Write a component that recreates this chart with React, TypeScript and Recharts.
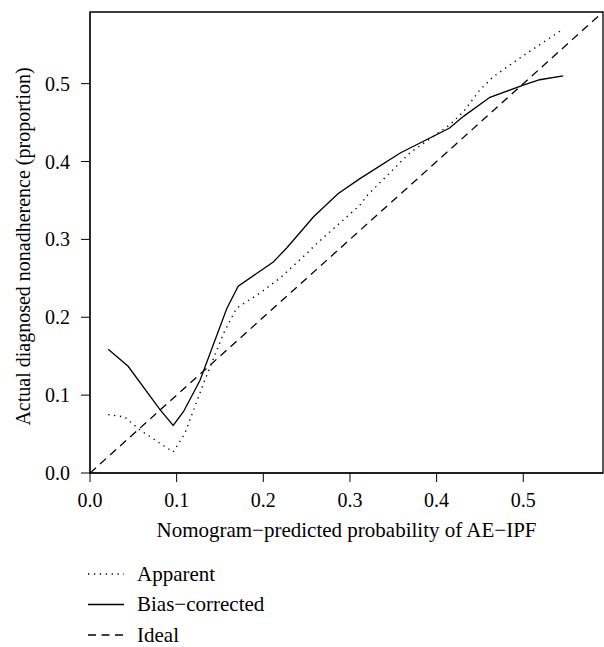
import { Line, LineChart, ReferenceArea, XAxis, YAxis } from 'recharts';

const apparentX = [0.021, 0.04, 0.058, 0.081, 0.096, 0.1095, 0.131, 0.154, 0.169, 0.196, 0.219, 0.254, 0.258, 0.3115, 0.3195, 0.369, 0.415, 0.431, 0.45, 0.4655, 0.504, 0.546];
const apparentY = [0.075, 0.072, 0.055, 0.038, 0.027, 0.051, 0.115, 0.179, 0.2115, 0.231, 0.25, 0.286, 0.291, 0.344, 0.356, 0.411, 0.447, 0.464, 0.492, 0.509, 0.539, 0.57];

const biasX = [0.021, 0.044, 0.081, 0.096, 0.108, 0.127, 0.158, 0.171, 0.2115, 0.227, 0.258, 0.2865, 0.3115, 0.358, 0.415, 0.431, 0.4615, 0.5, 0.519, 0.546];
const biasY = [0.159, 0.137, 0.081, 0.061, 0.079, 0.119, 0.2115, 0.24, 0.271, 0.289, 0.329, 0.359, 0.378, 0.411, 0.443, 0.458, 0.4825, 0.498, 0.505, 0.51];

const idealX = [0, 0.592];
const idealY = [0, 0.592];

const tickValues = [0, 0.1, 0.2, 0.3, 0.4, 0.5];

const xTitle = 'Nomogram−predicted probability of AE−IPF';
const yTitle = 'Actual diagnosed nonadherence (proportion)';

const legendNames = ['Apparent', 'Bias−corrected', 'Ideal'];

const zip = (xs: number[], ys: number[]) => xs.map((x, i) => ({ x, y: ys[i] }));

const apparentData = zip(apparentX, apparentY);
const biasData = zip(biasX, biasY);
const idealData = zip(idealX, idealY);

const FONT = '"Liberation Serif", "DejaVu Serif", serif';
const FS = 20;
const TITLE_FS = 21;
const dashes = ['1.3 4.6', undefined, '8 5.5'];

const tickStyle = { fontSize: FS, fill: '#000', fontFamily: FONT };

const YTitle = (props: any) => {
  const vb = props.viewBox;
  const cy = vb.y + vb.height / 2 + 4;
  return (
    <text x={30} y={cy} transform={`rotate(-90, 30, ${cy})`} textAnchor="middle" fontSize={20} fontFamily={FONT} fill="#000">
      {yTitle}
    </text>
  );
};

const XTitle = (props: any) => {
  const vb = props.viewBox;
  return (
    <text x={vb.x + vb.width / 2} y={537} textAnchor="middle" fontSize={TITLE_FS} fontFamily={FONT} fill="#000">
      {xTitle}
    </text>
  );
};

export default function App() {
  return (
    <div style={{ position: 'absolute', left: 0, top: 0, width: 604, height: 647, background: '#fff' }}>
      <LineChart width={604} height={545} margin={{ top: 12, right: 1, bottom: 0, left: 0 }}>
        <XAxis
          type="number"
          dataKey="x"
          domain={[0, 0.592]}
          ticks={tickValues}
          tickFormatter={(v: number) => v.toFixed(1)}
          allowDataOverflow
          height={72}
          tickSize={9}
          tickMargin={11}
          stroke="#000"
          tick={tickStyle}
          label={<XTitle />}
        />
        <YAxis
          type="number"
          dataKey="y"
          domain={[0, 0.592]}
          ticks={tickValues}
          tickFormatter={(v: number) => v.toFixed(1)}
          allowDataOverflow
          width={90}
          tickSize={9}
          tickMargin={11}
          stroke="#000"
          tick={tickStyle}
          label={<YTitle />}
        />
        <ReferenceArea x1={0} x2={0.592} y1={0} y2={0.592} fill="none" fillOpacity={0} stroke="#000" strokeWidth={1.3} />
        <Line data={idealData} dataKey="y" type="linear" stroke="#000" strokeWidth={1.3} strokeDasharray={dashes[2]} dot={false} isAnimationActive={false} />
        <Line data={apparentData} dataKey="y" type="linear" stroke="#000" strokeWidth={1.4} strokeDasharray={dashes[0]} dot={false} isAnimationActive={false} />
        <Line data={biasData} dataKey="y" type="linear" stroke="#000" strokeWidth={1.3} dot={false} isAnimationActive={false} />
      </LineChart>
      <svg width={300} height={95} style={{ position: 'absolute', left: 0, top: 552 }}>
        {legendNames.map((name, i) => (
          <g key={name}>
            <line x1={88} x2={124} y1={22 + i * 30.5} y2={22 + i * 30.5} stroke="#000" strokeWidth={1.3} strokeDasharray={dashes[i]} />
            <text x={137} y={22 + i * 30.5} dy="0.33em" fontSize={TITLE_FS} fontFamily={FONT} fill="#000">
              {name}
            </text>
          </g>
        ))}
      </svg>
    </div>
  );
}
